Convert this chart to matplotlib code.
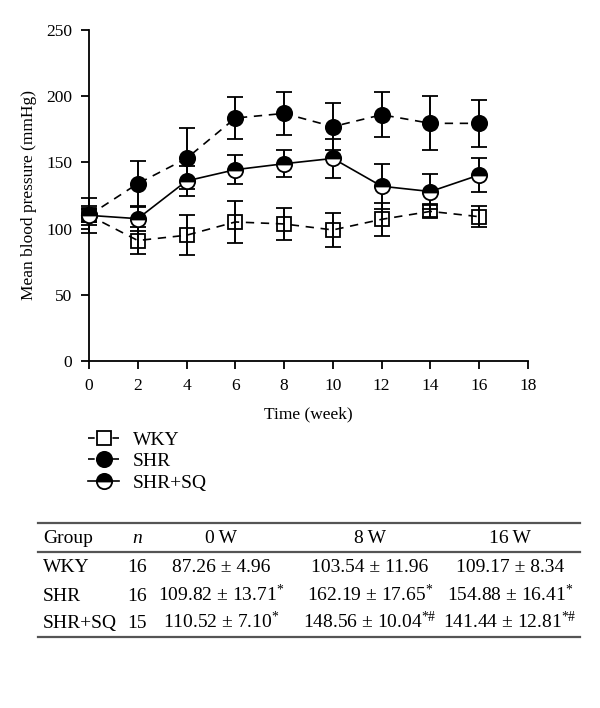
import matplotlib
matplotlib.use("Agg")
import matplotlib.pyplot as plt
from matplotlib.lines import Line2D

# chart data
weeks = [0, 2, 4, 6, 8, 10, 12, 14, 16]
wky_mean = [110, 91, 95, 105, 103.5, 99, 107, 113, 109]
wky_err = [5, 10, 15, 16, 12, 13, 12.5, 4.5, 8]
shr_mean = [110, 134, 153, 183.5, 187, 177, 186, 179.5, 179.5]
shr_err = [13, 17, 23, 16, 16, 18, 17, 20.5, 18]
sq_mean = [110, 107.5, 136, 144.5, 149, 153, 132, 128, 140.5]
sq_err = [7, 9, 11, 11, 10, 15, 17, 13.5, 12.5]

# table data
tbl_header = ["Group", "$\\mathit{n}$", "0\u2009W", "8\u2009W", "16\u2009W"]
tbl_groups = ["WKY", "SHR", "SHR+SQ"]
tbl_n = ["16", "16", "15"]
tbl_0w = ["87.26 \u00b1 4.96", "109.82 \u00b1 13.71$^{*}$", "110.52 \u00b1 7.10$^{*}$"]
tbl_8w = ["103.54 \u00b1 11.96", "162.19 \u00b1 17.65$^{*}$", "148.56 \u00b1 10.04$^{*\\#}$"]
tbl_16w = ["109.17 \u00b1 8.34", "154.88 \u00b1 16.41$^{*}$", "141.44 \u00b1 12.81$^{*\\#}$"]

plt.rcParams.update({
    'font.family': 'Liberation Serif',
    'mathtext.fontset': 'custom',
    'mathtext.rm': 'Liberation Serif',
    'mathtext.it': 'Liberation Serif:italic',
    'mathtext.default': 'regular',
    'axes.linewidth': 1.3,
})

W, H = 600, 708
fig = plt.figure(figsize=(W / 100, H / 100), dpi=100)


def fx(px):
    return px / W


def fy(py):
    return 1 - py / H


ax = fig.add_axes([fx(89), fy(361), fx(528) - fx(89), fy(30) - fy(361)])

lw = 1.2
eb_kw = dict(ecolor='black', elinewidth=1.4, capsize=6, capthick=1.4, color='black',
             linewidth=lw, markeredgewidth=1.3)
dash = (0, (5, 4))

e_wky = ax.errorbar(weeks, wky_mean, yerr=wky_err, linestyle=dash, marker='s',
                    markerfacecolor='none', markeredgecolor='black',
                    markersize=10, zorder=3, **eb_kw)
e_shr = ax.errorbar(weeks, shr_mean, yerr=shr_err, linestyle=dash, marker='o',
                    markerfacecolor='black', markeredgecolor='black',
                    markersize=11, zorder=4, **eb_kw)
e_sq = ax.errorbar(weeks, sq_mean, yerr=sq_err, linestyle='-', marker='o',
                   fillstyle='top', markerfacecolor='black', markerfacecoloralt='white',
                   markeredgecolor='black', markersize=11, zorder=5, **eb_kw)
for cont in (e_wky, e_shr, e_sq):
    for art in cont.get_children():
        art.set_clip_on(False)

ax.set_xlim(0, 18)
ax.set_ylim(0, 250)
ax.set_xticks(range(0, 19, 2))
ax.set_yticks(range(0, 251, 50))
ax.spines['top'].set_visible(False)
ax.spines['right'].set_visible(False)
ax.tick_params(direction='out', length=6, width=1.3, labelsize=12.5, pad=6)
ax.set_xlabel('Time (week)', fontsize=12.5, labelpad=9)
ax.set_ylabel('Mean blood pressure (mmHg)', fontsize=12.5, labelpad=7)

# legend: proxies so each handle shows a short dash on both sides of the marker
leg_fs = 14
handle_len = 1.6
L = handle_len * leg_fs / lw
leg_dash = (0, (4, L - 8))
h_wky = Line2D([], [], color='black', lw=lw, linestyle=leg_dash, marker='s', markersize=10,
               markerfacecolor='none', markeredgecolor='black', markeredgewidth=1.3)
h_shr = Line2D([], [], color='black', lw=lw, linestyle=leg_dash, marker='o', markersize=11,
               markerfacecolor='black', markeredgewidth=1.3)
h_sq = Line2D([], [], color='black', lw=lw, linestyle='-', marker='o', markersize=11,
              fillstyle='top', markerfacecolor='black', markerfacecoloralt='white',
              markeredgecolor='black', markeredgewidth=1.3)
fig.legend([h_wky, h_shr, h_sq], ["WKY", "SHR", "SHR+SQ"],
           loc='upper left', bbox_to_anchor=(fx(88), fy(431)), frameon=False,
           fontsize=leg_fs, handlelength=handle_len, handletextpad=0.7, labelspacing=0.2,
           borderaxespad=0, borderpad=0)

# table
x_left, x_right = 38, 580
line_kw = dict(color='#555555', linewidth=1.6, transform=fig.transFigure)
for py in [523, 552, 637]:
    fig.add_artist(Line2D([fx(x_left), fx(x_right)], [fy(py), fy(py)], **line_kw))

fs = 14
col_x = [43, 137, 221, 370, 510]
head_base = 543
row_base = [572, 601, 628]
fig.text(fx(col_x[0]), fy(head_base), tbl_header[0], ha='left', va='baseline', fontsize=fs)
for cx, lab in zip(col_x[1:], tbl_header[1:]):
    fig.text(fx(cx), fy(head_base), lab, ha='center', va='baseline', fontsize=fs)
for i, ry in enumerate(row_base):
    fig.text(fx(col_x[0]), fy(ry), tbl_groups[i], ha='left', va='baseline', fontsize=fs)
    fig.text(fx(col_x[1]), fy(ry), tbl_n[i], ha='center', va='baseline', fontsize=fs)
    for cx, col in zip(col_x[2:], [tbl_0w, tbl_8w, tbl_16w]):
        fig.text(fx(cx), fy(ry), col[i], ha='center', va='baseline', fontsize=fs)

fig.savefig('out.png', dpi=100)
